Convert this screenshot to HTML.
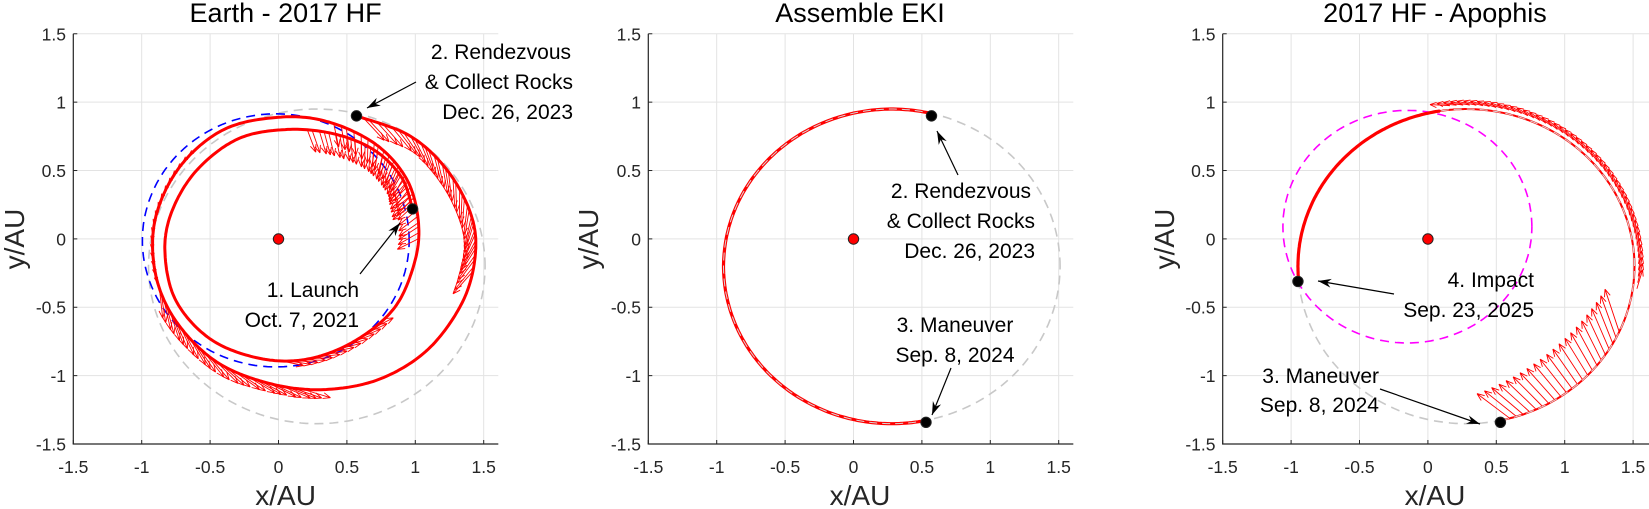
<!DOCTYPE html>
<html><head><meta charset="utf-8"><style>
html,body{margin:0;padding:0;background:#fff;}
svg{display:block;font-family:"Liberation Sans",Arial,sans-serif;}
.tk{font-size:17.5px;fill:#262626;}
.ty{font-size:17.5px;fill:#262626;text-anchor:end;}
.tx{text-anchor:middle;}
.ttl{font-size:27px;fill:#000;text-anchor:middle;}
.al{font-size:28px;fill:#262626;text-anchor:middle;}
.an{font-size:21px;fill:#000;}
</style></head><body>
<svg id="s" width="1649" height="509" viewBox="0 0 1649 509" xmlns="http://www.w3.org/2000/svg">
<defs>
<clipPath id="c1"><rect x="73.3" y="33.8" width="425" height="410.2"/></clipPath>
<clipPath id="c2"><rect x="648.3" y="33.8" width="425" height="410.2"/></clipPath>
<clipPath id="c3"><rect x="1222.7" y="33.8" width="426.3" height="410.2"/></clipPath>
</defs>
<g id="grid"></g>
<g id="data"></g>
<g id="axes"></g>
<!-- titles -->
<text class="ttl" x="285.6" y="22">Earth - 2017 HF</text>
<text class="ttl" x="860" y="22">Assemble EKI</text>
<text class="ttl" x="1435" y="22">2017 HF - Apophis</text>
<!-- axis labels -->
<text class="al" x="285.6" y="505">x/AU</text>
<text class="al" x="860" y="505">x/AU</text>
<text class="al" x="1435" y="505">x/AU</text>
<text class="al" transform="translate(24,239) rotate(-90)">y/AU</text>
<text class="al" transform="translate(598,239) rotate(-90)">y/AU</text>
<text class="al" transform="translate(1174,239) rotate(-90)">y/AU</text>
<!-- x tick labels -->
<g class="tk tx">
<text x="73.3" y="473">-1.5</text><text x="141.7" y="473">-1</text><text x="210.1" y="473">-0.5</text><text x="278.5" y="473">0</text><text x="346.9" y="473">0.5</text><text x="415.3" y="473">1</text><text x="483.7" y="473">1.5</text>
<text x="648.3" y="473">-1.5</text><text x="716.7" y="473">-1</text><text x="785.1" y="473">-0.5</text><text x="853.5" y="473">0</text><text x="921.9" y="473">0.5</text><text x="990.3" y="473">1</text><text x="1058.7" y="473">1.5</text>
<text x="1222.7" y="473">-1.5</text><text x="1291.1" y="473">-1</text><text x="1359.5" y="473">-0.5</text><text x="1427.9" y="473">0</text><text x="1496.3" y="473">0.5</text><text x="1564.7" y="473">1</text><text x="1633.1" y="473">1.5</text>
</g>
<!-- y tick labels -->
<g class="ty">
<text x="66" y="450.5">-1.5</text><text x="66" y="382">-1</text><text x="66" y="313.7">-0.5</text><text x="66" y="245.5">0</text><text x="66" y="177">0.5</text><text x="66" y="108.7">1</text><text x="66" y="40.3">1.5</text>
<text x="641" y="450.5">-1.5</text><text x="641" y="382">-1</text><text x="641" y="313.7">-0.5</text><text x="641" y="245.5">0</text><text x="641" y="177">0.5</text><text x="641" y="108.7">1</text><text x="641" y="40.3">1.5</text>
<text x="1215.5" y="450.5">-1.5</text><text x="1215.5" y="382">-1</text><text x="1215.5" y="313.7">-0.5</text><text x="1215.5" y="245.5">0</text><text x="1215.5" y="177">0.5</text><text x="1215.5" y="108.7">1</text><text x="1215.5" y="40.3">1.5</text>
</g>
<!-- annotations -->
<g class="an" text-anchor="end">
<text x="571" y="59">2. Rendezvous</text>
<text x="573" y="89">&amp; Collect Rocks</text>
<text x="573" y="119">Dec. 26, 2023</text>
<text x="359" y="297">1. Launch</text>
<text x="359" y="327">Oct. 7, 2021</text>
<text x="1031" y="198">2. Rendezvous</text>
<text x="1035" y="228">&amp; Collect Rocks</text>
<text x="1035" y="258">Dec. 26, 2023</text>
<text x="1534" y="287">4. Impact</text>
<text x="1534" y="317">Sep. 23, 2025</text>
<text x="1379" y="383">3. Maneuver</text>
<text x="1379" y="412">Sep. 8, 2024</text>
</g>
<g class="an" text-anchor="middle">
<text x="955" y="332">3. Maneuver</text>
<text x="955" y="362">Sep. 8, 2024</text>
</g>
<g id="top"></g>
</svg>
<script>
(function(){
var NS="http://www.w3.org/2000/svg",k=136.8,Y0=239;
var X0=[278.5,853.5,1427.9];
function el(par,tag,a){var e=document.createElementNS(NS,tag);for(var n in a)e.setAttribute(n,a[n]);par.appendChild(e);return e;}
var grid=document.getElementById('grid'),data=document.getElementById('data'),axes=document.getElementById('axes'),top=document.getElementById('top');
var rights=[498.3,1073.3,1649];
for(var p=0;p<3;p++){
 var L=X0[p]-205.2,R=rights[p];
 for(var i=0;i<7;i++){var x=L+i*68.4;el(grid,'line',{x1:x,y1:33.8,x2:x,y2:444,stroke:'#e3e3e3','stroke-width':1});
  var y=444-i*68.37;el(grid,'line',{x1:L,y1:y,x2:R,y2:y,stroke:'#e3e3e3','stroke-width':1});
  el(axes,'line',{x1:x,y1:444,x2:x,y2:440,stroke:'#262626','stroke-width':1});
  el(axes,'line',{x1:L,y1:y,x2:L+4,y2:y,stroke:'#262626','stroke-width':1});}
 el(axes,'line',{x1:L,y1:33.8,x2:L,y2:444.5,stroke:'#262626','stroke-width':1.2});
 el(axes,'line',{x1:L-0.5,y1:444,x2:R,y2:444,stroke:'#262626','stroke-width':1.2});
}
var G=[];for(var p=0;p<3;p++){G.push(el(data,'g',{'clip-path':'url(#c'+(p+1)+')'}));}
function P(p,x,y){return [X0[p]+k*x,Y0-k*y];}
function path(p,pts,attrs){var d='';for(var i=0;i<pts.length;i++){var q=P(p,pts[i][0],pts[i][1]);d+=(i?'L':'M')+q[0].toFixed(1)+' '+q[1].toFixed(1);}attrs.d=d;attrs.fill='none';return el(G[p],'path',attrs);}
function ell(cx,cy,rx,ry,t0,t1,n){var a=[];for(var i=0;i<=n;i++){var t=(t0+(t1-t0)*i/n)*Math.PI/180;a.push([cx+rx*Math.cos(t),cy+ry*Math.sin(t)]);}return a;}
function cr(pts,n){var out=[];for(var i=0;i<pts.length-1;i++){var p0=pts[Math.max(i-1,0)],p1=pts[i],p2=pts[i+1],p3=pts[Math.min(i+2,pts.length-1)];
 for(var j=0;j<n;j++){var t=j/n,t2=t*t,t3=t2*t;var f=function(a,b,c,d){return 0.5*((2*b)+(-a+c)*t+(2*a-5*b+4*c-d)*t2+(-a+3*b-3*c+d)*t3);};
 out.push([f(p0[0],p1[0],p2[0],p3[0]),f(p0[1],p1[1],p2[1],p3[1])]);}}out.push(pts[pts.length-1]);return out;}
function arrow(p,x,y,ang,len,g){var a=P(p,x,y);var r=ang*Math.PI/180;var b=[a[0]+len*Math.cos(r),a[1]-len*Math.sin(r)];
 var h=Math.min(8,len*0.35);var s='M'+a[0].toFixed(1)+' '+a[1].toFixed(1)+'L'+b[0].toFixed(1)+' '+b[1].toFixed(1);
 for(var sg=-1;sg<=1;sg+=2){var rr=r+Math.PI+sg*0.38;s+='M'+b[0].toFixed(1)+' '+b[1].toFixed(1)+'L'+(b[0]+h*Math.cos(rr)).toFixed(1)+' '+(b[1]-h*Math.sin(rr)).toFixed(1);}
 el(g||G[p],'path',{d:s,stroke:'#ff0000','stroke-width':0.9,fill:'none'});}
function tang(pts,i){var a=pts[Math.max(i-1,0)],b=pts[Math.min(i+1,pts.length-1)];return Math.atan2(b[1]-a[1],b[0]-a[0])*180/Math.PI;}
var gd={stroke:'#c8c8c8','stroke-width':1.6,'stroke-dasharray':'9 6'};
// Panel 1
path(0,ell(0.28,-0.2,1.23,1.15,0,360,200),gd);
path(0,ell(-0.02,-0.01,0.975,0.925,0,360,200),{stroke:'#0000ff','stroke-width':1.6,'stroke-dasharray':'9 6'});
var T1=[[0.98,0.22],[0.9,0.45],[0.7,0.65],[0.4,0.77],[0.05,0.8],[-0.3,0.73],[-0.6,0.5],[-0.78,0.2],[-0.83,-0.1],[-0.75,-0.45],[-0.5,-0.73],[-0.15,-0.87],[0.2,-0.88],[0.55,-0.75],[0.85,-0.5],[1.0,-0.15],[1.02,0.15],[0.93,0.45],[0.7,0.7],[0.35,0.86],[0.0,0.89],[-0.4,0.8],[-0.72,0.53],[-0.9,0.15],[-0.9,-0.25],[-0.75,-0.6],[-0.45,-0.9],[-0.05,-1.06],[0.35,-1.1],[0.75,-1.02],[1.1,-0.8],[1.35,-0.45],[1.44,-0.1],[1.4,0.2],[1.22,0.52],[0.95,0.76],[0.57,0.9]];
var N=20,S1=cr(T1,N);
function grp(p,S,u0,u1,step,rel,len){for(var u=u0;u<=u1;u+=step){var i=Math.round(u*N);var q=S[i];arrow(p,q[0],q[1],tang(S,i)+rel,len);}}
grp(0,S1,0.2,3.6,0.12,115,24);
grp(0,S1,15.5,19,0.14,120,24);
grp(0,S1,31.6,35.8,0.12,150,30);
grp(0,S1,21.5,24,0.15,0,14);
grp(0,S1,24.3,27.6,0.12,-12,30);
grp(0,S1,11.5,13.6,0.15,-10,22);
path(0,S1,{stroke:'#ff0000','stroke-width':3});
// Panel 2
path(1,ell(0.28,-0.2,1.23,1.15,0,360,200),gd);
var E2=ell(0.28,-0.2,1.23,1.15,75,282,200);
path(1,E2,{stroke:'#ff0000','stroke-width':3.2});
path(1,E2,{stroke:'#d8d8d8','stroke-width':1,'stroke-dasharray':'8 5'});
// Panel 3
path(2,ell(0.28,-0.2,1.23,1.15,0,360,200),gd);
path(2,ell(-0.15,0.09,0.91,0.85,0,360,200),{stroke:'#ff00ff','stroke-width':1.6,'stroke-dasharray':'9 6'});
var A=ell(0.28,-0.2,1.23,1.15,-78,100,300);
for(var t=-75;t<=-24;t+=2.4){var f=(t+75)/51;var r=t*Math.PI/180;var x=0.28+1.23*Math.cos(r),y=-0.2+1.15*Math.sin(r);arrow(2,x,y,143-35*f,41+4*f);}
for(var t=-8;t<=97;t+=2.2){var r=t*Math.PI/180;var x=0.28+1.23*Math.cos(r),y=-0.2+1.15*Math.sin(r);var tg=Math.atan2(1.15*Math.cos(r),-1.23*Math.sin(r))*180/Math.PI;
 arrow(2,x+0.03*Math.cos(r),y+0.03*Math.sin(r),tg-8,20);}
path(2,A,{stroke:'#ff0000','stroke-width':2});
path(2,A,{stroke:'#d8d8d8','stroke-width':1,'stroke-dasharray':'8 5'});
path(2,ell(0.28,-0.2,1.23,1.15,99,185,120),{stroke:'#ff0000','stroke-width':3.2});
// dots
function dot(p,x,y,c){var q=P(p,x,y);el(top,'circle',{cx:q[0],cy:q[1],r:5.2,fill:c,stroke:'#222','stroke-width':1});}
for(var p=0;p<3;p++)dot(p,0,0,'#ff0000');
dot(0,0.98,0.22,'#000');dot(0,0.57,0.9,'#000');
dot(1,0.57,0.9,'#000');dot(1,0.53,-1.34,'#000');
dot(2,-0.95,-0.31,'#000');dot(2,0.53,-1.34,'#000');
// annotation arrows
function ann(x1,y1,x2,y2){el(top,'line',{x1:x1,y1:y1,x2:x2,y2:y2,stroke:'#000','stroke-width':1.2});
 var a=Math.atan2(y2-y1,x2-x1),h=14,w=0.32;
 var p1=[x2-h*Math.cos(a-w),y2-h*Math.sin(a-w)],p2=[x2-h*Math.cos(a+w),y2-h*Math.sin(a+w)],m=[x2-h*0.65*Math.cos(a),y2-h*0.65*Math.sin(a)];
 el(top,'path',{d:'M'+x2+' '+y2+'L'+p1[0]+' '+p1[1]+'L'+m[0]+' '+m[1]+'L'+p2[0]+' '+p2[1]+'Z',fill:'#000'});}
ann(416,82,367,108);
ann(360,274,400,223);
ann(958,175,937,131);
ann(951,368,932,415);
ann(1394,294,1318,281);
ann(1380,389,1480,424);
})();
</script>
</body></html>
